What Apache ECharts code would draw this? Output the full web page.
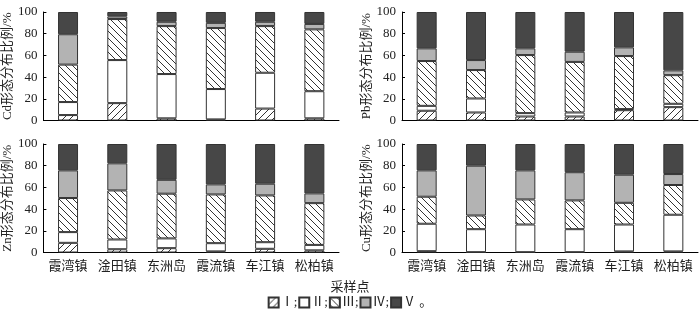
<!DOCTYPE html>
<html>
<head>
<meta charset="utf-8">
<script src="https://cdn.jsdelivr.net/npm/echarts@6/dist/echarts.min.js"></script>
<style>
html,body{margin:0;padding:0;background:#fff;}
#main{width:700px;height:309px;}
</style>
</head>
<body>
<div id="main"></div>
<script>
// 采样点
var cats = ['霞湾镇', '淦田镇', '东洲岛', '霞流镇', '车江镇', '松柏镇'];
var formNames = ['Ⅰ', 'Ⅱ', 'Ⅲ', 'Ⅳ', 'Ⅴ'];
var yTicks = [0, 20, 40, 60, 80, 100];

// Cd
var cdI = [5, 16, 2, 1, 11, 2];
var cdII = [12, 39.7, 40.8, 28, 33, 25];
var cdIII = [34.5, 37.8, 44.2, 56.2, 43, 57];
var cdIV = [28, 2.5, 4, 4.8, 4, 5];
var cdV = [20.5, 4, 9, 10, 9, 11];
// Pb
var pbI = [9, 7.4, 3.7, 3.7, 9.5, 12.3];
var pbII = [4.5, 12.9, 3.1, 3.7, 1, 3.1];
var pbIII = [41.3, 26.2, 53.5, 46.6, 48.9, 26.4];
var pbIV = [11.7, 9.2, 6.2, 9.4, 8, 4.4];
var pbV = [33.5, 44.3, 33.5, 36.6, 32.6, 53.8];
// Zn
var znI = [8.9, 3, 4, 1, 3.4, 2];
var znII = [9.9, 9, 9, 7.6, 6.1, 5];
var znIII = [31.4, 45.2, 41.2, 44.9, 43.1, 38.5];
var znIV = [25.5, 25, 12.8, 9.3, 10.8, 9];
var znV = [24.3, 17.8, 33, 37.2, 36.6, 45.5];
// Cu
var cuI = [1.2, 0.3, 0.3, 0.3, 1, 1];
var cuII = [25.3, 21.2, 25.5, 21.2, 24.8, 33.8];
var cuIII = [24.9, 12.6, 23.1, 26.5, 20, 27.4];
var cuIV = [24.3, 45.9, 26.8, 26, 25.9, 10.1];
var cuV = [24.3, 20, 24.3, 26, 28.3, 27.7];

var panels = [
    {name: 'Cd形态分布比例/%', data: [cdI, cdII, cdIII, cdIV, cdV]},
    {name: 'Pb形态分布比例/%', data: [pbI, pbII, pbIII, pbIV, pbV]},
    {name: 'Zn形态分布比例/%', data: [znI, znII, znIII, znIV, znV]},
    {name: 'Cu形态分布比例/%', data: [cuI, cuII, cuIII, cuIV, cuV]}
];

// 斜线填充
function hatch(forward){
    var s = 7;
    var c = document.createElement('canvas');
    c.width = s; c.height = s;
    var ctx = c.getContext('2d');
    ctx.fillStyle = '#fff';
    ctx.fillRect(0, 0, s, s);
    ctx.strokeStyle = '#333';
    ctx.lineWidth = 1;
    ctx.beginPath();
    if (forward) {
        ctx.moveTo(-1, s + 1); ctx.lineTo(s + 1, -1);
        ctx.moveTo(-1, 1); ctx.lineTo(1, -1);
        ctx.moveTo(s - 1, s + 1); ctx.lineTo(s + 1, s - 1);
    } else {
        ctx.moveTo(-1, -1); ctx.lineTo(s + 1, s + 1);
        ctx.moveTo(s - 1, -1); ctx.lineTo(s + 1, 1);
        ctx.moveTo(-1, s - 1); ctx.lineTo(1, s + 1);
    }
    ctx.stroke();
    return {image: c, repeat: 'repeat'};
}

var fills = [hatch(true), '#ffffff', hatch(false), '#b3b3b3', '#474747'];

var grids = [
    {left: 42, top: 12, width: 297, height: 108.5},
    {left: 402, top: 12, width: 296, height: 108.5},
    {left: 42, top: 144, width: 297, height: 108.5},
    {left: 402, top: 144, width: 296, height: 108.5}
];

var serif = 'Liberation Serif, Noto Sans CJK SC';
var xAxes = [], yAxes = [], series = [];
panels.forEach(function(p, i){
    xAxes.push({
        type: 'category',
        gridIndex: i,
        data: cats,
        axisLine: {lineStyle: {color: '#000', width: 1}},
        axisTick: {show: false},
        axisLabel: {show: i >= 2, interval: 0, color: '#222', fontSize: 13, margin: 6, fontFamily: 'Noto Sans CJK SC'}
    });
    yAxes.push({
        type: 'value',
        gridIndex: i,
        min: yTicks[0],
        max: yTicks[yTicks.length - 1],
        interval: 20,
        name: p.name,
        nameLocation: 'middle',
        nameGap: 29,
        nameTextStyle: {color: '#222', fontSize: 13, fontFamily: serif},
        axisLine: {show: true, lineStyle: {color: '#000', width: 1}},
        axisTick: {show: true, inside: true, length: 3, lineStyle: {color: '#000'}},
        axisLabel: {color: '#222', fontSize: 13, margin: 6, fontFamily: serif},
        splitLine: {show: false}
    });
    p.data.forEach(function(d, k){
        series.push({
            name: formNames[k],
            type: 'bar',
            stack: 'p' + i,
            xAxisIndex: i,
            yAxisIndex: i,
            barWidth: 20,
            data: d,
            itemStyle: {color: fills[k], borderColor: '#333', borderWidth: 1}
        });
    });
});

var chart = echarts.init(document.getElementById('main'));
chart.setOption({
    animation: false,
    title: {
        text: '采样点',
        left: 'center',
        top: 275,
        textStyle: {color: '#222', fontSize: 13, fontWeight: 'normal', fontFamily: 'Noto Sans CJK SC'}
    },
    legend: {
        data: formNames,
        left: 'center',
        top: 291,
        itemWidth: 10,
        itemHeight: 10,
        itemGap: 1,
        icon: 'rect',
        selectedMode: false,
        textStyle: {color: '#222', fontSize: 13, fontFamily: serif, padding: [0, 0, 0, -3]},
        formatter: function(n){ return n === 'Ⅴ' ? n + ' 。' : n + ';'; }
    },
    grid: grids,
    xAxis: xAxes,
    yAxis: yAxes,
    series: series
});
</script>
</body>
</html>
